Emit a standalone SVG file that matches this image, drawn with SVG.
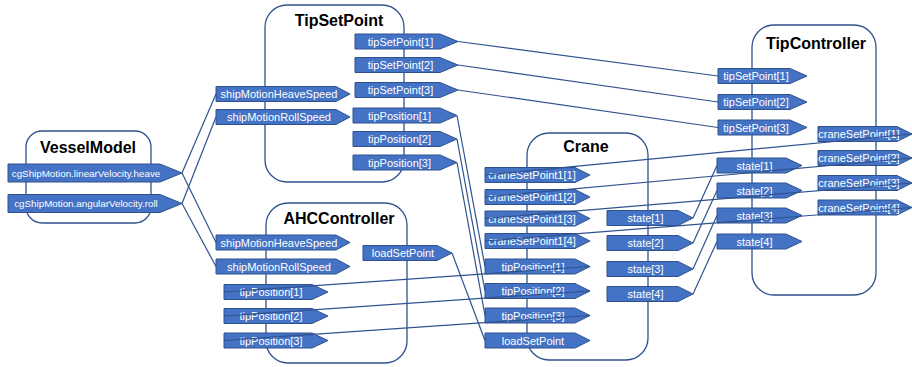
<svg xmlns="http://www.w3.org/2000/svg" width="912" height="367" viewBox="0 0 912 367">
<style>
.box{fill:#ffffff;stroke:#2F528F;stroke-width:1.3}
.title{font-family:"Liberation Sans",Arial,sans-serif;font-weight:bold;font-size:16px;fill:#000;text-anchor:middle}
.port{fill:#4472C4;stroke:#2F528F;stroke-width:1}
.pt{font-family:"Liberation Sans",Arial,sans-serif;font-size:11px;fill:#ffffff;text-anchor:middle;dominant-baseline:central}
.pts{font-size:9.8px}
.conn{fill:none;stroke:#2F528F;stroke-width:1.2}
</style>
<rect width="912" height="367" fill="#ffffff"/>

<g id="VesselModel">
<rect class="box" x="26" y="131" width="125" height="92" rx="16"/>
<text class="title" x="88" y="153">VesselModel</text>
<polygon class="port" points="8,164 160,164 182,173 160,182 8,182"/>
<text class="pt pts" x="86" y="173">cgShipMotion.linearVelocity.heave</text>
<polygon class="port" points="8,194.5 160,194.5 182,203.5 160,212.5 8,212.5"/>
<text class="pt pts" x="86" y="203.5">cgShipMotion.angularVelocity.roll</text>
</g>

<g id="TipSetPoint">
<rect class="box" x="265" y="5" width="139" height="177" rx="22"/>
<text class="title" x="339" y="26">TipSetPoint</text>
<polygon class="port" points="216,86.5 336,86.5 350,94 336,101.5 216,101.5"/>
<text class="pt" x="279" y="94">shipMotionHeaveSpeed</text>
<polygon class="port" points="216,109.5 336,109.5 350,117 336,124.5 216,124.5"/>
<text class="pt" x="279" y="117">shipMotionRollSpeed</text>
<polygon class="port" points="355,34 440,34 458,41.5 440,49 355,49"/>
<text class="pt" x="400.5" y="41.5">tipSetPoint[1]</text>
<polygon class="port" points="355,57.5 440,57.5 458,65 440,72.5 355,72.5"/>
<text class="pt" x="400.5" y="65">tipSetPoint[2]</text>
<polygon class="port" points="355,82.5 440,82.5 458,90 440,97.5 355,97.5"/>
<text class="pt" x="400.5" y="90">tipSetPoint[3]</text>
<polygon class="port" points="353,108 440,108 457,115.5 440,123 353,123"/>
<text class="pt" x="399.5" y="115.5">tipPosition[1]</text>
<polygon class="port" points="353,131.5 440,131.5 457,139 440,146.5 353,146.5"/>
<text class="pt" x="399.5" y="139">tipPosition[2]</text>
<polygon class="port" points="353,155 440,155 457,162.5 440,170 353,170"/>
<text class="pt" x="399.5" y="162.5">tipPosition[3]</text>
</g>

<g id="AHCController">
<rect class="box" x="266" y="203" width="141" height="160" rx="22"/>
<text class="title" x="339" y="224">AHCController</text>
<polygon class="port" points="216,235 336,235 350,242.5 336,250 216,250"/>
<text class="pt" x="279" y="242.5">shipMotionHeaveSpeed</text>
<polygon class="port" points="216,259 336,259 350,266.5 336,274 216,274"/>
<text class="pt" x="279" y="266.5">shipMotionRollSpeed</text>
<polygon class="port" points="363,245.5 437,245.5 452,253 437,260.5 363,260.5"/>
<text class="pt" x="403" y="253">loadSetPoint</text>
<polygon class="port" points="224,284.5 312,284.5 328,292 312,299.5 224,299.5"/>
<text class="pt" x="271" y="292">tipPosition[1]</text>
<polygon class="port" points="224,308.5 312,308.5 328,316 312,323.5 224,323.5"/>
<text class="pt" x="271" y="316">tipPosition[2]</text>
<polygon class="port" points="224,333 312,333 328,340.5 312,348 224,348"/>
<text class="pt" x="271" y="340.5">tipPosition[3]</text>
</g>

<g id="Crane">
<rect class="box" x="527" y="133" width="121" height="227" rx="22"/>
<text class="title" x="586" y="152">Crane</text>
<polygon class="port" points="485,167.5 575,167.5 590,175 575,182.5 485,182.5"/>
<text class="pt" x="532" y="175">craneSetPoint1[1]</text>
<polygon class="port" points="485,189.5 575,189.5 590,197 575,204.5 485,204.5"/>
<text class="pt" x="532" y="197">craneSetPoint1[2]</text>
<polygon class="port" points="485,211 575,211 590,218.5 575,226 485,226"/>
<text class="pt" x="532" y="218.5">craneSetPoint1[3]</text>
<polygon class="port" points="485,233.5 575,233.5 590,241 575,248.5 485,248.5"/>
<text class="pt" x="532" y="241">craneSetPoint1[4]</text>
<polygon class="port" points="485,259 575,259 590,266.5 575,274 485,274"/>
<text class="pt" x="533" y="266.5">tipPosition[1]</text>
<polygon class="port" points="485,283.5 575,283.5 590,291 575,298.5 485,298.5"/>
<text class="pt" x="533" y="291">tipPosition[2]</text>
<polygon class="port" points="485,308 575,308 590,315.5 575,323 485,323"/>
<text class="pt" x="533" y="315.5">tipPosition[3]</text>
<polygon class="port" points="485,333 575,333 590,340.5 575,348 485,348"/>
<text class="pt" x="533" y="340.5">loadSetPoint</text>
<polygon class="port" points="607,210.5 678,210.5 693,218 678,225.5 607,225.5"/>
<text class="pt" x="645.5" y="218">state[1]</text>
<polygon class="port" points="607,235.5 678,235.5 693,243 678,250.5 607,250.5"/>
<text class="pt" x="645.5" y="243">state[2]</text>
<polygon class="port" points="607,261.5 678,261.5 693,269 678,276.5 607,276.5"/>
<text class="pt" x="645.5" y="269">state[3]</text>
<polygon class="port" points="607,286.5 678,286.5 693,294 678,301.5 607,301.5"/>
<text class="pt" x="645.5" y="294">state[4]</text>
</g>

<g id="TipController">
<rect class="box" x="752" y="25" width="124" height="270" rx="22"/>
<text class="title" x="816" y="49">TipController</text>
<polygon class="port" points="718,68.5 790,68.5 807,76 790,83.5 718,83.5"/>
<text class="pt" x="756" y="76">tipSetPoint[1]</text>
<polygon class="port" points="718,94.5 790,94.5 807,102 790,109.5 718,109.5"/>
<text class="pt" x="756" y="102">tipSetPoint[2]</text>
<polygon class="port" points="718,120 790,120 807,127.5 790,135 718,135"/>
<text class="pt" x="756" y="127.5">tipSetPoint[3]</text>
<polygon class="port" points="717,158 786,158 802,165.5 786,173 717,173"/>
<text class="pt" x="754.5" y="165.5">state[1]</text>
<polygon class="port" points="717,183 786,183 802,190.5 786,198 717,198"/>
<text class="pt" x="754.5" y="190.5">state[2]</text>
<polygon class="port" points="717,208 786,208 802,215.5 786,223 717,223"/>
<text class="pt" x="754.5" y="215.5">state[3]</text>
<polygon class="port" points="717,234 786,234 802,241.5 786,249 717,249"/>
<text class="pt" x="754.5" y="241.5">state[4]</text>
<polygon class="port" points="818,126.5 897,126.5 912,134 897,141.5 818,141.5"/>
<text class="pt" x="859" y="134">craneSetPoint[1]</text>
<polygon class="port" points="818,150.5 897,150.5 912,158 897,165.5 818,165.5"/>
<text class="pt" x="859" y="158">craneSetPoint[2]</text>
<polygon class="port" points="818,175.5 897,175.5 912,183 897,190.5 818,190.5"/>
<text class="pt" x="859" y="183">craneSetPoint[3]</text>
<polygon class="port" points="818,200 897,200 912,207.5 897,215 818,215"/>
<text class="pt" x="859" y="207.5">craneSetPoint[4]</text>
</g>

<g id="connectors">
<line class="conn" x1="182" y1="173" x2="216" y2="94"/>
<line class="conn" x1="182" y1="173" x2="216" y2="242.5"/>
<line class="conn" x1="182" y1="203.5" x2="216" y2="117"/>
<line class="conn" x1="182" y1="203.5" x2="216" y2="266.5"/>
<line class="conn" x1="458" y1="41.5" x2="718" y2="76"/>
<line class="conn" x1="458" y1="65" x2="718" y2="102"/>
<line class="conn" x1="458" y1="90" x2="718" y2="127.5"/>
<line class="conn" x1="457" y1="115.5" x2="485" y2="266.5"/>
<line class="conn" x1="457" y1="139" x2="485" y2="291"/>
<line class="conn" x1="457" y1="162.5" x2="485" y2="315.5"/>
<line class="conn" x1="452" y1="253" x2="485" y2="340.5"/>
<line class="conn" x1="224" y1="292" x2="590" y2="266.5"/>
<line class="conn" x1="224" y1="316" x2="590" y2="291"/>
<line class="conn" x1="224" y1="340.5" x2="590" y2="315.5"/>
<line class="conn" x1="485" y1="175" x2="912" y2="134"/>
<line class="conn" x1="485" y1="197" x2="912" y2="158"/>
<line class="conn" x1="485" y1="218.5" x2="912" y2="183"/>
<line class="conn" x1="485" y1="241" x2="912" y2="207.5"/>
<line class="conn" x1="693" y1="218" x2="717" y2="165.5"/>
<line class="conn" x1="693" y1="243" x2="717" y2="190.5"/>
<line class="conn" x1="693" y1="269" x2="717" y2="215.5"/>
<line class="conn" x1="693" y1="294" x2="717" y2="241.5"/>
</g>
</svg>
